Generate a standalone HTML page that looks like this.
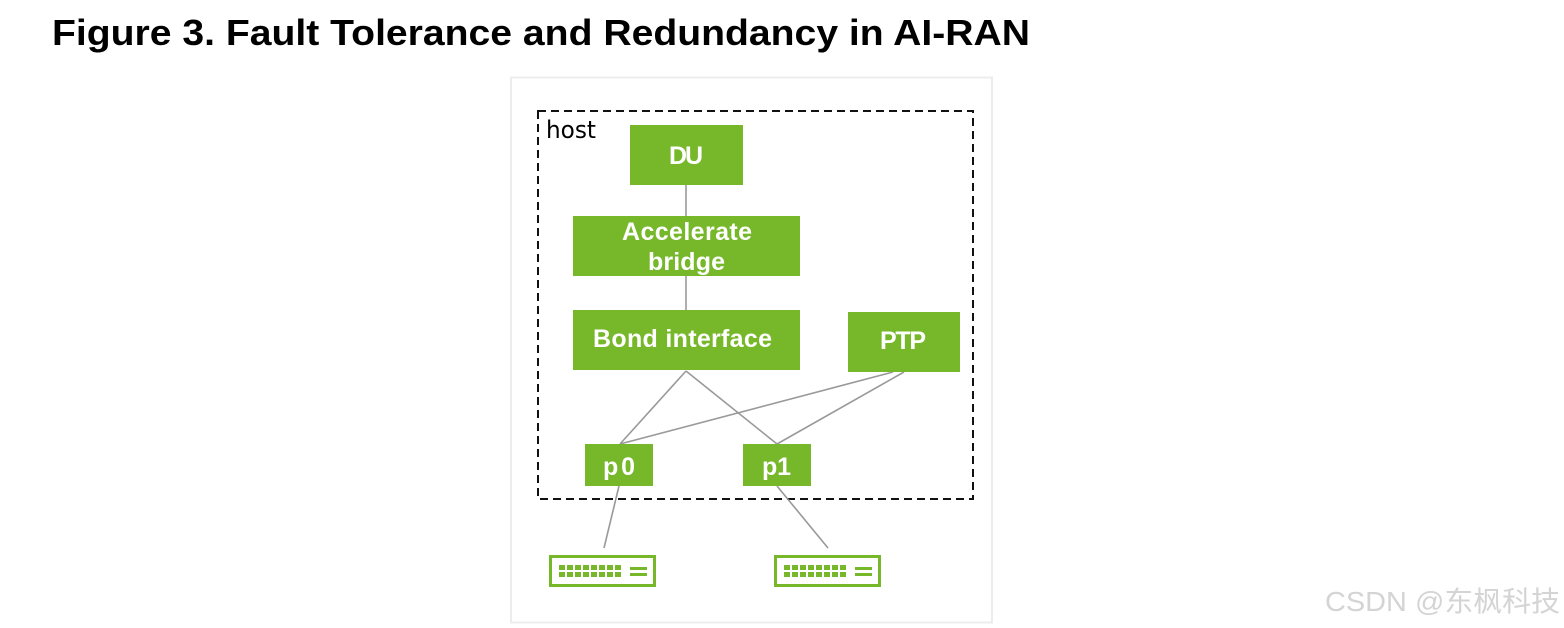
<!DOCTYPE html>
<html><head><meta charset="utf-8"><style>
html,body{margin:0;padding:0;background:#fff;}
svg{display:block;}
</style></head><body>
<svg width="1564" height="628" viewBox="0 0 1564 628" xmlns="http://www.w3.org/2000/svg">
<defs>
<g id="sw">
  <rect x="550.5" y="556.5" width="104" height="29" fill="#fff" stroke="#76b82a" stroke-width="3"/>
  <g fill="#76b82a">
    <rect x="559" y="565" width="6" height="5"/><rect x="567" y="565" width="6" height="5"/><rect x="575" y="565" width="6" height="5"/><rect x="583" y="565" width="6" height="5"/><rect x="591" y="565" width="6" height="5"/><rect x="599" y="565" width="6" height="5"/><rect x="607" y="565" width="6" height="5"/><rect x="615" y="565" width="6" height="5"/>
    <rect x="559" y="572" width="6" height="5"/><rect x="567" y="572" width="6" height="5"/><rect x="575" y="572" width="6" height="5"/><rect x="583" y="572" width="6" height="5"/><rect x="591" y="572" width="6" height="5"/><rect x="599" y="572" width="6" height="5"/><rect x="607" y="572" width="6" height="5"/><rect x="615" y="572" width="6" height="5"/>
    <rect x="630" y="567" width="17" height="3"/><rect x="630" y="573" width="17" height="3"/>
  </g>
</g>
</defs>
<text x="52" y="45" font-family="Liberation Sans, sans-serif" font-size="36" font-weight="bold" fill="#000" textLength="978" lengthAdjust="spacingAndGlyphs">Figure 3.  Fault Tolerance and Redundancy in AI-RAN</text>
<rect x="511" y="77.5" width="481" height="545" fill="#fff" stroke="#ececec" stroke-width="2"/>
<rect x="538" y="111" width="435" height="388" fill="none" stroke="#111" stroke-width="2" stroke-dasharray="8,5"/>
<text x="546" y="138" font-family="DejaVu Sans, sans-serif" font-size="24" fill="#000" textLength="50" lengthAdjust="spacingAndGlyphs">host</text>
<g stroke="#999" stroke-width="1.6" fill="none">
  <line x1="686" y1="185" x2="686" y2="216"/>
  <line x1="686" y1="276" x2="686" y2="310"/>
  <line x1="686" y1="371" x2="620" y2="444"/>
  <line x1="686" y1="371" x2="777" y2="444"/>
  <line x1="893" y1="372" x2="620" y2="444"/>
  <line x1="904" y1="372" x2="777" y2="444"/>
  <line x1="619" y1="486" x2="604" y2="548"/>
  <line x1="777" y1="486" x2="828" y2="548"/>
</g>
<g fill="#76b82a">
  <rect x="630" y="125" width="113" height="60"/>
  <rect x="573" y="216" width="227" height="60"/>
  <rect x="573" y="310" width="227" height="60"/>
  <rect x="848" y="312" width="112" height="60"/>
  <rect x="585" y="444" width="68" height="42"/>
  <rect x="743" y="444" width="68" height="42"/>
</g>
<g fill="#fff" font-family="Liberation Sans, sans-serif" font-size="25" font-weight="bold" lengthAdjust="spacingAndGlyphs">
  <text x="669" y="164" textLength="34">DU</text>
  <text x="622" y="240" textLength="130">Accelerate</text>
  <text x="648" y="270" textLength="77">bridge</text>
  <text x="593" y="347" textLength="179">Bond interface</text>
  <text x="880" y="349" textLength="46">PTP</text>
  <text x="603" y="475" textLength="32">p0</text>
  <text x="762" y="475" textLength="29">p1</text>
</g>
<use href="#sw"/>
<use href="#sw" transform="translate(225,0)"/>
<text x="1325" y="611" font-family="Liberation Sans, 'Noto Sans CJK SC', sans-serif" font-size="28" fill="#d4d4d4" textLength="235" lengthAdjust="spacingAndGlyphs">CSDN @东枫科技</text>
</svg>
</body></html>
